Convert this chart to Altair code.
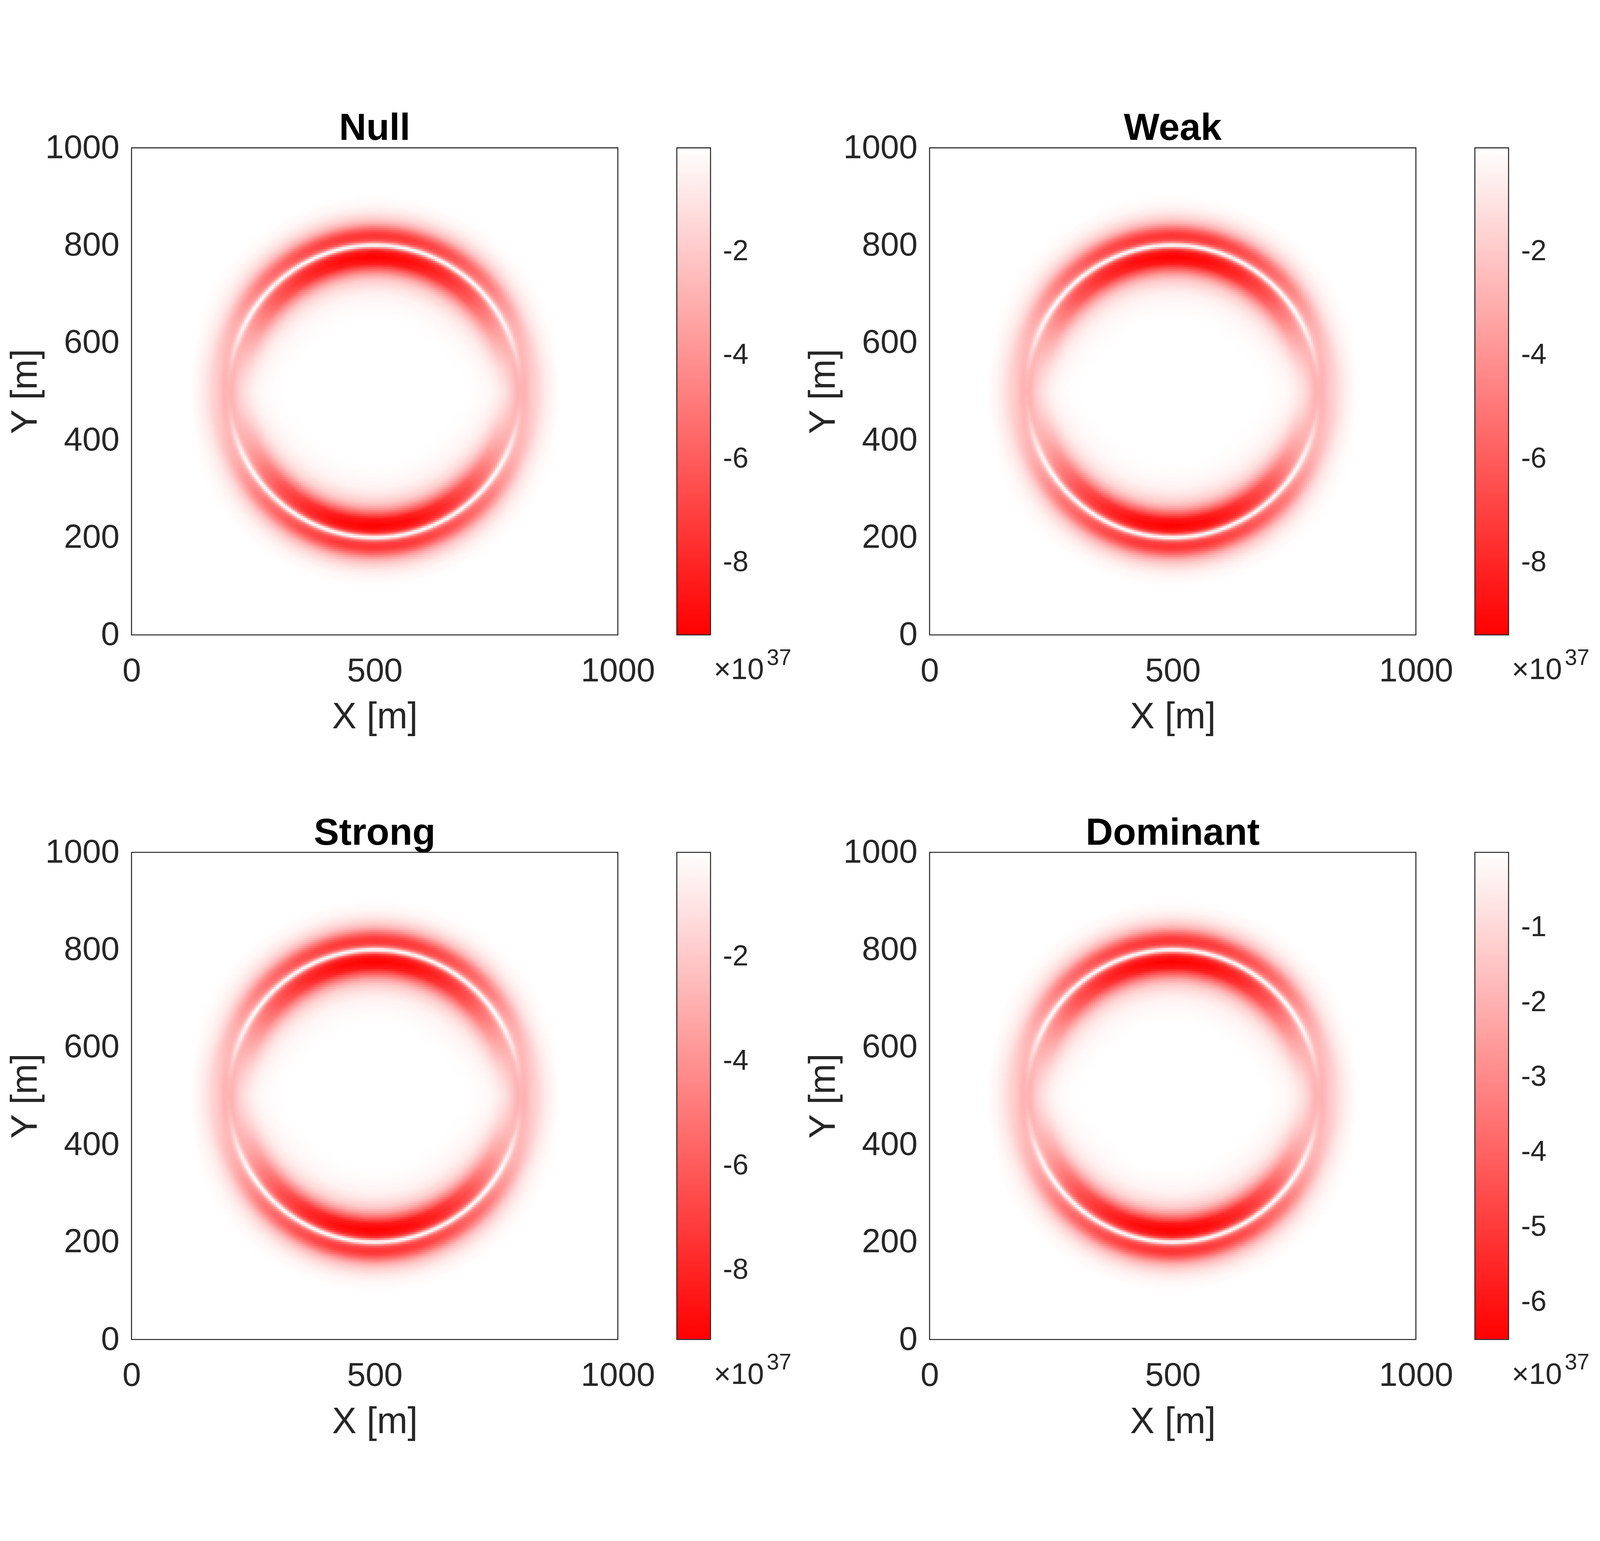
import numpy as np
import pandas as pd
import altair as alt

alt.data_transformers.disable_max_rows()

# ---------------- values ----------------
PANELS = ["Null", "Weak", "Strong", "Dominant"]
PEAK = [9.4, 9.4, 9.33, 6.5]          # colorbar minimum (x10^37); bar top is 0
CB_TICKS = [[-8, -6, -4, -2], [-8, -6, -4, -2], [-8, -6, -4, -2],
            [-6, -5, -4, -3, -2, -1]]
X_TICKS = [0, 500, 1000]
Y_TICKS = [0, 200, 400, 600, 800, 1000]
CENTER = [500, 500]

# radial profile through the top of the ring (Null panel, x10^37)
R_TOP = [140, 160, 180, 200, 215, 229, 240, 252, 263, 275, 285, 290, 293, 296, 298,
         300, 302, 304, 307, 312, 320, 326, 333, 340, 346, 355, 367, 380, 395, 410]
V_TOP = [0, -0.08, -0.2, -0.5, -1.1, -2.0, -3.5, -6.1, -8.7, -9.4, -8.9, -7.6, -5.8, -2.9, -0.8,
         0, -0.7, -2.6, -5.2, -7.1, -7.6, -7.0, -5.7, -4.1, -2.9, -1.8, -0.9, -0.35, -0.1, 0]

# extra lobe seen on the left / right sides of the ring (x10^37)
R_SIDE = [250, 267, 278, 285, 290, 295, 300, 305, 313, 322, 336, 350, 365, 380]
V_SIDE = [0, -0.2, -0.8, -1.3, -1.9, -2.5, -2.8, -2.5, -1.9, -1.25, -1.0, -0.6, -0.25, 0]

# angular weights (degrees from the horizontal: 0 = side, 90 = top/bottom)
ANG = [0, 5, 10, 15, 20, 25, 30, 35, 45, 60, 75, 90]
W_TOP = [0.1, 0.12, 0.16, 0.22, 0.29, 0.36, 0.44, 0.52, 0.68, 0.85, 0.96, 1.0]
W_SIDE = [1.0, 0.93, 0.78, 0.55, 0.32, 0.14, 0.05, 0.0, 0, 0, 0, 0]

CELL = 4           # grid cell size in metres
CB_MULT = "\u00d710"
CB_EXP = "37"

FONT = "Liberation Sans"
INK = "#262626"
PW, PH = 1443, 1445


def field(peak):
    xc = np.arange(0, 1000, CELL)
    X, Y = np.meshgrid(xc, xc)
    dx = X + CELL / 2 - CENTER[0]
    dy = Y + CELL / 2 - CENTER[1]
    r = np.hypot(dx, dy)
    phi = np.degrees(np.arctan2(np.abs(dy), np.abs(dx)))
    v = (np.interp(phi, ANG, W_TOP) * np.interp(r, R_TOP, V_TOP, left=0, right=0)
         + np.interp(phi, ANG, W_SIDE) * np.interp(r, R_SIDE, V_SIDE, left=0, right=0))
    v = v * peak / 9.4
    m = v < -0.04
    return pd.DataFrame({"x": X[m].ravel(), "y": Y[m].ravel(), "v": np.round(v[m].ravel(), 3)})


def panel(i):
    df = field(PEAK[i])
    xs = alt.Scale(domain=[0, 1000], nice=False, zero=False)
    ys = alt.Scale(domain=[0, 1000], nice=False, zero=False)
    xaxis = alt.Axis(values=X_TICKS, title="X [m]", grid=False, ticks=False, domain=False,
                     labelFontSize=99, labelFont=FONT, labelColor=INK, labelPadding=59,
                     labelFlush=False, labelLimit=0, labelOverlap=False,
                     titleFontSize=109, titleFont=FONT, titleColor=INK,
                     titleFontWeight="normal", titlePadding=34, format="d")
    yaxis = alt.Axis(values=Y_TICKS, title="Y [m]", grid=False, ticks=False, domain=False,
                     labelFontSize=99, labelFont=FONT, labelColor=INK, labelPadding=36,
                     labelFlush=False, labelLimit=0, labelOverlap=False,
                     titleFontSize=109, titleFont=FONT, titleColor=INK,
                     titleFontWeight="normal", titleAngle=270, titleBaseline="middle",
                     titleAlign="center", titleX=-315, titleY=PH / 2, format="d")
    legend = alt.Legend(orient="right", direction="vertical", title=None, values=CB_TICKS[i],
                        gradientLength=PH, gradientThickness=100, offset=175, padding=0,
                        gradientStrokeColor=INK, gradientStrokeWidth=3,
                        labelFontSize=85, labelFont=FONT, labelColor=INK, labelOffset=37,
                        labelExpr="'-' + format(-datum.value, 'd')")
    color = alt.Color("v:Q", scale=alt.Scale(domain=[-PEAK[i], 0], range=["#ff0000", "#ffffff"],
                                             interpolate="rgb", clamp=True), legend=legend)
    rect = alt.Chart(df).transform_calculate(
        x2=f"datum.x + {CELL + 0.6}", y2=f"datum.y + {CELL + 0.6}"
    ).mark_rect(strokeWidth=0).encode(
        x=alt.X("x:Q", scale=xs, axis=xaxis),
        x2="x2:Q",
        y=alt.Y("y:Q", scale=ys, axis=yaxis),
        y2="y2:Q",
        color=color,
    )
    ttl = pd.DataFrame({"x": [500], "y": [1000], "t": [PANELS[i]]})
    title = alt.Chart(ttl).mark_text(align="center", baseline="alphabetic", font=FONT,
                                     fontSize=112, fontWeight="bold", color="black",
                                     dy=-23).encode(
        x=alt.X("x:Q", scale=xs), y=alt.Y("y:Q", scale=ys), text="t:N")
    ann1 = pd.DataFrame({"x": [1197], "y": [-73], "t": [CB_MULT]})
    ann2 = pd.DataFrame({"x": [1306], "y": [-73], "t": [CB_EXP]})
    t1 = alt.Chart(ann1).mark_text(align="left", baseline="middle", font=FONT,
                                   fontSize=88, color=INK).encode(
        x=alt.X("x:Q", scale=xs), y=alt.Y("y:Q", scale=ys), text="t:N")
    t2 = alt.Chart(ann2).mark_text(align="left", baseline="middle", font=FONT,
                                   fontSize=66, color=INK, dy=-36).encode(
        x=alt.X("x:Q", scale=xs), y=alt.Y("y:Q", scale=ys), text="t:N")
    return alt.layer(rect, title, t1, t2).properties(width=PW, height=PH)


chart = alt.concat(
    panel(0), panel(1), panel(2), panel(3), columns=2,
    spacing={"row": 229, "column": 37},
).resolve_scale(
    color="independent", x="independent", y="independent"
).properties(
    padding={"left": 10, "top": 0, "right": 20, "bottom": 0}, background="white"
).configure_view(stroke=INK, strokeWidth=3, fill="white")

chart.save("out.html", embed_options={"renderer": "svg", "actions": False})
